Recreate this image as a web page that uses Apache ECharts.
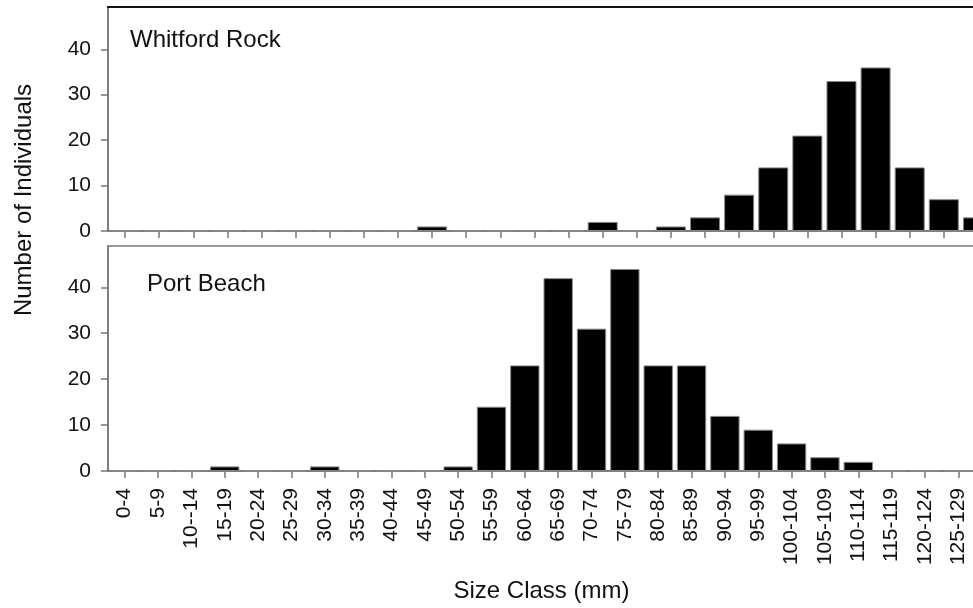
<!DOCTYPE html>
<html>
<head>
<meta charset="utf-8">
<script src="https://cdn.jsdelivr.net/npm/echarts@6/dist/echarts.min.js"></script>
<style>
html,body{margin:0;padding:0;background:#fff;}
#chart{width:973px;height:608px;}
</style>
</head>
<body>
<div id="chart"></div>
<script>
var categories = ['0-4','5-9','10--14','15-19','20-24','25-29','30-34','35-39','40-44','45-49','50-54','55-59','60-64','65-69','70-74','75-79','80-84','85-89','90-94','95-99','100-104','105-109','110-114','115-119','120-124','125-129'];
var whitfordRock = [0,0,0,0,0,0,0,0,0,1,0,0,0,0,2,0,1,3,8,14,21,33,36,14,7,3];
var portBeach = [0,0,0,1,0,0,1,0,0,0,1,14,23,42,31,44,23,23,12,9,6,3,2,0,0,0];
var yTicks = [0,10,20,30,40];
var panelTitles = ['Whitford Rock','Port Beach'];

var FONT = "'Liberation Sans', Arial, Helvetica, sans-serif";
var AX = '#777';
var chart = echarts.init(document.getElementById('chart'), null, {renderer:'canvas'});

function yAxis(gi, max){
  return {
    type:'value', gridIndex:gi, min:0, max:max,
    axisLine:{show:true, lineStyle:{color:AX, width:1.5}},
    axisTick:{show:true, length:7, lineStyle:{color:AX, width:1.5}, customValues:yTicks},
    axisLabel:{show:true, customValues:yTicks, fontSize:21, color:'#111', fontFamily:FONT, margin:17},
    splitLine:{show:false}
  };
}

var option = {
  animation:false,
  backgroundColor:'#fff',
  grid:[
    {left:108, top:7, right:-22, height:224, show:true, borderColor:AX, borderWidth:1.5, containLabel:false, outerBoundsMode:'none'},
    {left:108, top:246, right:-2, height:225, show:true, borderColor:AX, borderWidth:1.5, containLabel:false, outerBoundsMode:'none'}
  ],
  xAxis:[
    {type:'category', gridIndex:0, data:categories,
     axisLine:{show:true, lineStyle:{color:AX, width:1.5}},
     axisTick:{show:true, alignWithLabel:true, interval:0, length:7, lineStyle:{color:AX, width:1.5}},
     axisLabel:{show:false, interval:0}},
    {type:'category', gridIndex:0, position:'top', data:categories,
     axisLine:{show:true, lineStyle:{color:'#111', width:2}},
     axisTick:{show:false}, axisLabel:{show:false}},
    {type:'category', gridIndex:1, data:categories,
     axisLine:{show:true, lineStyle:{color:AX, width:1.5}},
     axisTick:{show:true, alignWithLabel:true, interval:0, length:7, lineStyle:{color:AX, width:1.5}},
     axisLabel:{show:true, rotate:90, interval:0, fontSize:21, color:'#111', fontFamily:FONT, margin:17},
     name:'Size Class (mm)', nameLocation:'middle', nameGap:108,
     nameTextStyle:{fontSize:24, color:'#111', fontFamily:FONT}}
  ],
  yAxis:[ yAxis(0, 49.3), yAxis(1, 49) ],
  series:[
    {type:'bar', xAxisIndex:0, yAxisIndex:0, data:whitfordRock, barCategoryGap:'12%',
     itemStyle:{color:'#000', borderColor:'#888', borderWidth:1}},
    {type:'bar', xAxisIndex:2, yAxisIndex:1, data:portBeach, barCategoryGap:'12%',
     itemStyle:{color:'#000', borderColor:'#888', borderWidth:1}}
  ],
  graphic:[
    {type:'text', x:130, y:40, style:{text:panelTitles[0], font:'24px '+FONT, fill:'#111', verticalAlign:'middle', align:'left'}},
    {type:'text', x:147, y:284, style:{text:panelTitles[1], font:'24px '+FONT, fill:'#111', verticalAlign:'middle', align:'left'}},
    {type:'text', x:24, y:200, rotation:Math.PI/2, style:{text:'Number of Individuals', font:'24px '+FONT, fill:'#111', verticalAlign:'middle', align:'center'}}
  ]
};
chart.setOption(option);
</script>
</body>
</html>
